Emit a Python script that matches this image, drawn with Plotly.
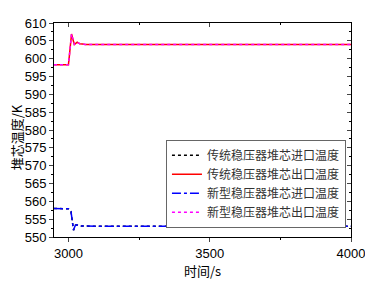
import plotly.graph_objects as go

# ---- data ----
names = ["传统稳压器堆芯进口温度", "传统稳压器堆芯出口温度",
         "新型稳压器堆芯进口温度", "新型稳压器堆芯出口温度"]

t_in = [2949, 2990, 3000, 3005, 3009, 3012, 3015, 3018, 3021, 3025, 3030, 3035, 3045, 3060, 3100, 3300, 4000]
trad_in = [558.0, 558.0, 557.9, 557.6, 557.2, 555.5, 553.0, 551.9, 552.6, 553.3, 553.4, 553.2, 553.1, 553.05, 553.0, 553.0, 553.0]
new_in = [558.0, 558.0, 557.9, 557.6, 557.2, 555.5, 553.0, 551.9, 552.6, 553.3, 553.4, 553.2, 553.1, 553.05, 553.0, 553.0, 553.0]

t_out = [2949, 3000, 3003, 3006, 3009, 3011, 3014, 3018, 3021, 3026, 3031, 3035, 3040, 3050, 3060, 3100, 3300, 4000]
trad_out = [598.3, 598.3, 600.5, 603.5, 606.2, 606.9, 606.0, 604.5, 604.0, 604.3, 604.6, 604.4, 604.2, 604.1, 604.0, 604.0, 604.0, 604.0]
new_out = [598.3, 598.3, 600.5, 603.5, 606.2, 606.9, 606.0, 604.5, 604.0, 604.3, 604.6, 604.4, 604.2, 604.1, 604.0, 604.0, 604.0, 604.0]

x_ticks = [3000, 3500, 4000]
y_ticks = list(range(550, 611, 5))
x_title = "时间/s"
y_title = "堆芯温度/K"

fig = go.Figure()
fig.add_trace(go.Scatter(x=t_in, y=trad_in, name=names[0], mode="lines",
                         line=dict(color="black", width=1.5, dash="dot")))
fig.add_trace(go.Scatter(x=t_out, y=trad_out, name=names[1], mode="lines",
                         line=dict(color="#ff0000", width=1.5)))
fig.add_trace(go.Scatter(x=t_in, y=new_in, name=names[2], mode="lines",
                         line=dict(color="#0000ff", width=1.5, dash="dashdot")))
fig.add_trace(go.Scatter(x=t_out, y=new_out, name=names[3], mode="lines",
                         line=dict(color="#ff00ff", width=1.5, dash="dot")))
# helper trace for mirrored (top/right) inward-tick axes
fig.add_trace(go.Scatter(x=[], y=[], xaxis="x2", yaxis="y2", showlegend=False, hoverinfo="skip"))

tickfont = dict(family="Liberation Sans, Arial", size=13, color="black")
xr = [2949, 4000]
yr = [550, 610]

# page body has an 8px default margin, so the figure is offset by 8px
fig.update_layout(
    width=365, height=280,
    margin=dict(l=46, r=18, t=8, b=51),
    paper_bgcolor="white", plot_bgcolor="white",
    showlegend=True,
    legend=dict(x=0.983, y=0.455, xanchor="right", yanchor="top",
                bgcolor="white", bordercolor="#666666", borderwidth=1,
                font=dict(family="Noto Sans CJK SC", size=12, color="#333333"),
                tracegroupgap=0, itemwidth=30),
    xaxis=dict(range=xr, tickvals=x_ticks, ticks="outside", ticklen=4, tickwidth=1,
               showline=True, linecolor="black", linewidth=1, showgrid=False, zeroline=False,
               tickfont=tickfont,
               minor=dict(ticks="outside", dtick=250, tick0=3000, ticklen=2, tickcolor="black"),
               title=dict(text=x_title, font=dict(family="Noto Sans CJK SC", size=13, color="black"),
                          standoff=7)),
    yaxis=dict(range=yr, tickvals=y_ticks, ticks="outside", ticklen=4, tickwidth=1,
               showline=True, linecolor="black", linewidth=1, showgrid=False, zeroline=False,
               tickfont=tickfont,
               minor=dict(ticks="outside", dtick=2.5, tick0=550, ticklen=2, tickcolor="black")),
    xaxis2=dict(range=xr, overlaying="x", side="top", anchor="y2", tickvals=x_ticks,
                ticks="inside", ticklen=4, showticklabels=False, showline=True, linecolor="black",
                showgrid=False, zeroline=False,
                minor=dict(ticks="inside", dtick=250, tick0=3000, ticklen=2, tickcolor="black")),
    yaxis2=dict(range=yr, overlaying="y", side="right", anchor="x2", tickvals=y_ticks,
                ticks="inside", ticklen=4, showticklabels=False, showline=True, linecolor="black",
                showgrid=False, zeroline=False,
                minor=dict(ticks="inside", dtick=2.5, tick0=550, ticklen=2, tickcolor="black")),
    annotations=[dict(text=y_title, xref="paper", yref="paper", x=-0.128, y=0.466,
                      xanchor="center", yanchor="middle", textangle=-90, showarrow=False,
                      font=dict(family="Noto Sans CJK SC", size=13, color="black"))],
)

fig.write_html("out.html", config={"displayModeBar": False})
